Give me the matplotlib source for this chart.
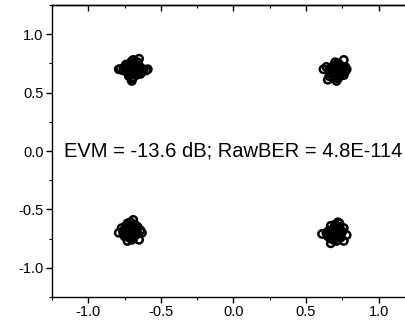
import matplotlib
matplotlib.use("Agg")
import matplotlib.pyplot as plt
from matplotlib.ticker import MultipleLocator

plt.rcParams['font.family'] = ['Liberation Sans', 'DejaVu Sans']

# Constellation points (I, Q), one list per symbol cluster
tl_I = [-0.69, -0.72, -0.66, -0.70, -0.68, -0.74, -0.64, -0.71, -0.67, -0.73, -0.65, -0.69, -0.76, -0.62, -0.70,
        -0.68, -0.72, -0.66, -0.78, -0.60, -0.71, -0.67, -0.74, -0.64, -0.69, -0.70, -0.73, -0.65, -0.75, -0.63,
        -0.79, -0.59, -0.65, -0.70,
        -0.69, -0.71, -0.67, -0.70, -0.68, -0.72, -0.66, -0.70, -0.69, -0.71, -0.68, -0.73, -0.67, -0.70, -0.72,
        -0.66, -0.69, -0.71, -0.68, -0.74, -0.65]
tl_Q = [0.70, 0.72, 0.68, 0.66, 0.74, 0.70, 0.71, 0.75, 0.65, 0.67, 0.73, 0.78, 0.69, 0.70, 0.62,
        0.71, 0.64, 0.76, 0.70, 0.69, 0.68, 0.72, 0.74, 0.66, 0.63, 0.77, 0.70, 0.69, 0.72, 0.68,
        0.70, 0.70, 0.79, 0.60,
        0.71, 0.69, 0.70, 0.73, 0.67, 0.71, 0.72, 0.68, 0.74, 0.66, 0.70, 0.69, 0.68, 0.71, 0.73,
        0.70, 0.67, 0.72, 0.75, 0.71, 0.72]

tr_I = [0.72, 0.70, 0.74, 0.68, 0.75, 0.71, 0.73, 0.69, 0.66, 0.77, 0.72, 0.70, 0.74, 0.67, 0.76,
        0.71, 0.73, 0.69, 0.64, 0.78, 0.72, 0.70, 0.75, 0.68, 0.73, 0.71, 0.66, 0.77,
        0.76, 0.65, 0.71, 0.62,
        0.72, 0.71, 0.73, 0.70, 0.74, 0.72, 0.69, 0.73, 0.71, 0.75, 0.70, 0.72, 0.68, 0.74, 0.71,
        0.73, 0.70, 0.72, 0.67, 0.75]
tr_Q = [0.69, 0.71, 0.67, 0.66, 0.72, 0.74, 0.64, 0.73, 0.70, 0.68, 0.62, 0.76, 0.70, 0.66, 0.65,
        0.69, 0.72, 0.63, 0.72, 0.70, 0.75, 0.68, 0.67, 0.71, 0.74, 0.65, 0.64, 0.72,
        0.78, 0.61, 0.60, 0.70,
        0.70, 0.68, 0.71, 0.69, 0.69, 0.72, 0.67, 0.68, 0.71, 0.70, 0.73, 0.66, 0.69, 0.71, 0.67,
        0.70, 0.68, 0.73, 0.68, 0.69]

bl_I = [-0.71, -0.73, -0.69, -0.75, -0.67, -0.72, -0.70, -0.74, -0.68, -0.66, -0.76, -0.71, -0.73, -0.69, -0.64,
        -0.77, -0.72, -0.70, -0.74, -0.68, -0.71, -0.66, -0.75, -0.69, -0.73, -0.70,
        -0.69, -0.63, -0.65, -0.79, -0.73,
        -0.71, -0.72, -0.70, -0.73, -0.69, -0.71, -0.74, -0.70, -0.72, -0.68, -0.71, -0.73, -0.69, -0.72, -0.70,
        -0.75, -0.67, -0.71, -0.73, -0.68]
bl_Q = [-0.68, -0.70, -0.66, -0.67, -0.69, -0.64, -0.73, -0.72, -0.63, -0.71, -0.70, -0.61, -0.65, -0.75, -0.68,
        -0.66, -0.74, -0.69, -0.64, -0.72, -0.67, -0.65, -0.73, -0.70, -0.62, -0.76,
        -0.59, -0.70, -0.76, -0.70, -0.77,
        -0.69, -0.67, -0.70, -0.69, -0.68, -0.71, -0.68, -0.66, -0.72, -0.70, -0.66, -0.71, -0.67, -0.69, -0.73,
        -0.69, -0.67, -0.72, -0.66, -0.70]

br_I = [0.70, 0.72, 0.68, 0.74, 0.66, 0.71, 0.69, 0.73, 0.67, 0.75, 0.64, 0.70, 0.72, 0.68, 0.76,
        0.71, 0.69, 0.65, 0.73, 0.70, 0.67, 0.74, 0.72, 0.69, 0.71, 0.66,
        0.72, 0.67, 0.78, 0.76, 0.61,
        0.70, 0.71, 0.69, 0.72, 0.68, 0.70, 0.73, 0.69, 0.71, 0.67, 0.70, 0.72, 0.68, 0.71, 0.74,
        0.69, 0.70, 0.72, 0.66, 0.73]
br_Q = [-0.70, -0.68, -0.72, -0.71, -0.69, -0.74, -0.66, -0.65, -0.75, -0.69, -0.70, -0.63, -0.73, -0.68, -0.66,
        -0.77, -0.71, -0.73, -0.62, -0.67, -0.64, -0.74, -0.70, -0.76, -0.65, -0.68,
        -0.61, -0.79, -0.72, -0.77, -0.71,
        -0.71, -0.69, -0.70, -0.72, -0.71, -0.68, -0.70, -0.72, -0.67, -0.70, -0.73, -0.71, -0.68, -0.72, -0.69,
        -0.69, -0.66, -0.67, -0.72, -0.73]

annotation = "EVM = -13.6 dB; RawBER = 4.8E-114"
x_ticks = [-1.0, -0.5, 0.0, 0.5, 1.0]
y_ticks = [-1.0, -0.5, 0.0, 0.5, 1.0]

fig = plt.figure(figsize=(4.06, 3.23), dpi=100)
ax = fig.add_axes([0.128, 0.0805, 0.894, 0.904])

for I, Q in [(tl_I, tl_Q), (tr_I, tr_Q), (bl_I, bl_Q), (br_I, br_Q)]:
    ax.scatter(I, Q, s=28, facecolors='none', edgecolors='black', linewidths=1.8)

ax.set_xlim(-1.25, 1.25)
ax.set_ylim(-1.25, 1.25)
ax.set_xticks(x_ticks)
ax.set_yticks(y_ticks)
ax.set_xticklabels([f"{v:.1f}" for v in x_ticks])
ax.set_yticklabels([f"{v:.1f}" for v in y_ticks])
ax.xaxis.set_minor_locator(MultipleLocator(0.25))
ax.yaxis.set_minor_locator(MultipleLocator(0.25))

for s in ['left', 'bottom', 'top']:
    ax.spines[s].set_linewidth(1.0)
ax.spines['right'].set_visible(False)

ax.tick_params(axis='both', which='major', direction='out', length=4, width=1.0, labelsize=10.5, pad=2)
ax.tick_params(axis='both', which='minor', direction='out', length=2.5, width=0.8)
ax.tick_params(axis='x', top=False, which='both')

sec = ax.secondary_xaxis('top')
sec.set_xticks(x_ticks)
sec.xaxis.set_minor_locator(MultipleLocator(0.25))
sec.tick_params(which='major', direction='in', length=4, width=1.0, labeltop=False)
sec.tick_params(which='minor', direction='in', length=2.5, width=0.8)
sec.spines['top'].set_linewidth(1.0)

ax.text(-1.17, 0.0, annotation, fontsize=14.5, va='center', ha='left')

fig.savefig("out.png", dpi=100)
